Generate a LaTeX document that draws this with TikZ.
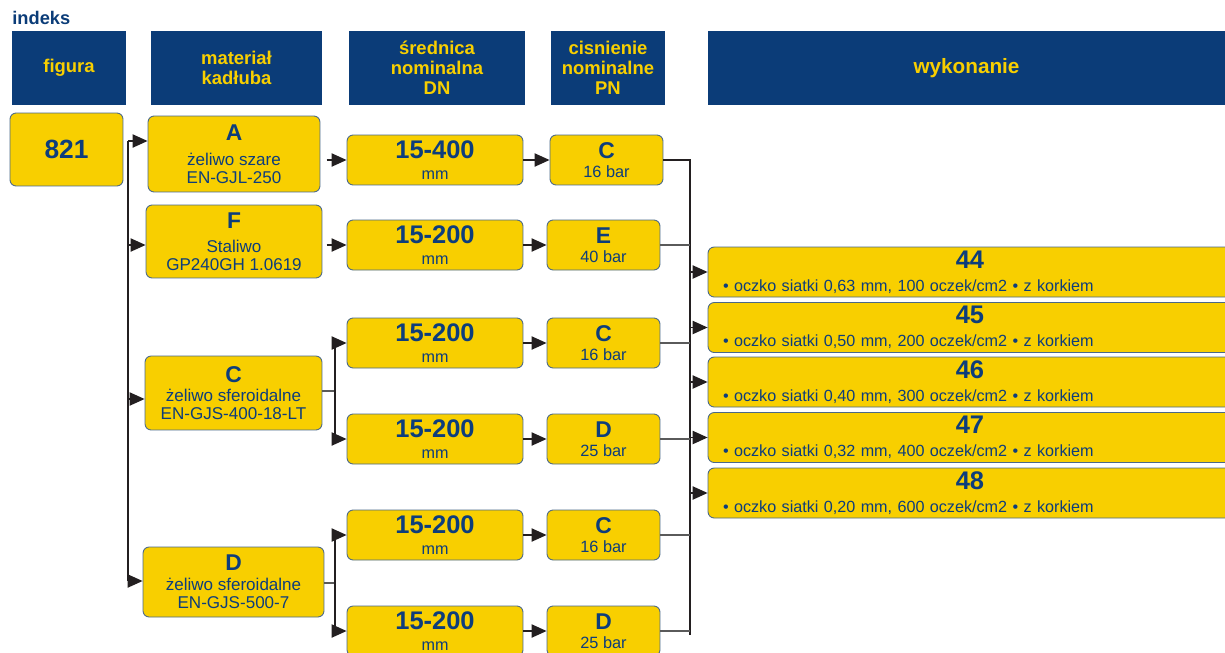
\documentclass[tikz,border=0pt]{standalone}
\usepackage{fontspec}
\setmainfont{Liberation Sans}
\usetikzlibrary{arrows.meta}

\definecolor{hdrblue}{HTML}{0B3C78}
\definecolor{boxyellow}{HTML}{F8CF00}
\definecolor{txtblue}{HTML}{0D3D7C}
\definecolor{edgeblue}{HTML}{4A6888}
\definecolor{linegrey}{HTML}{5A5A5A}
\definecolor{lineblack}{HTML}{231F20}

\newcommand{\numfont}{\bfseries\fontsize{14.5}{10}\selectfont}
\newcommand{\letfont}{\bfseries\fontsize{13}{10}\selectfont}

\tikzset{
  hdr/.style={fill=hdrblue, text=boxyellow, align=center, inner sep=0pt,
    minimum height=1.5cm, font=\bfseries\fontsize{10.5}{11.3}\selectfont},
  ybox/.style={fill=boxyellow, draw=edgeblue, line width=0.5pt, rounded corners=3.5pt,
    text=txtblue, align=center, inner sep=0pt},
  matbox/.style={ybox, font=\fontsize{9.7}{10.2}\selectfont},
  dnbox/.style={ybox, minimum width=3.52cm, minimum height=1cm, font=\fontsize{9.2}{10}\selectfont},
  pnbox/.style={ybox, minimum width=2.26cm, minimum height=1cm, font=\fontsize{9.3}{9.6}\selectfont},
  wykbox/.style={ybox, align=left, text width=9.88cm, inner xsep=0.3cm, minimum height=1cm,
    font=\fontsize{9.2}{10}\selectfont},
  arr/.style={draw=lineblack, line width=0.8pt, -{Triangle[length=8.5pt,width=7.5pt]}},
  trunk/.style={draw=lineblack, line width=0.8pt},
  stub/.style={draw=linegrey, line width=0.6pt},
}

\begin{document}
\begin{tikzpicture}[x=0.02cm, y=-0.02cm]
\useasboundingbox (0,0) rectangle (1225,653);

% naglowki
\node[anchor=base west, inner sep=0pt, text=hdrblue, font=\bfseries\fontsize{10.4}{12}\selectfont] (title) at (12,24) {indeks};
\node[hdr, minimum width=2.28cm] (hFig) at (69,68) {figura};
\node[hdr, minimum width=3.42cm] (hMat) at (236.5,68) {materiał\\kadłuba};
\node[hdr, minimum width=3.52cm] (hDN) at (437,68) {średnica\\nominalna\\DN};
\node[hdr, minimum width=2.28cm] (hPN) at (608,68) {cisnienie\\nominalne\\PN};
\node[hdr, minimum width=10.34cm, font=\bfseries\fontsize{11.8}{13}\selectfont] (hWyk) at (966.5,68) {wykonanie};

% figura
\node[ybox, minimum width=2.26cm, minimum height=1.46cm, font=\bfseries\fontsize{15}{16}\selectfont] (fig) at (66.5,149.5) {\raisebox{-2pt}{821}};

% material kadluba
\node[matbox, minimum width=3.44cm, minimum height=1.52cm] (mA) at (234,154) {{\letfont A}\\[3.8pt]żeliwo szare\\EN-GJL-250};
\node[matbox, minimum width=3.52cm, minimum height=1.46cm] (mF) at (234,241.5) {{\letfont F}\\[3.4pt]Staliwo\\GP240GH 1.0619};
\node[matbox, minimum width=3.54cm, minimum height=1.48cm] (mC) at (233.5,393) {{\letfont C}\\[1pt]żeliwo sferoidalne\\EN-GJS-400-18-LT};
\node[matbox, minimum width=3.62cm, minimum height=1.4cm] (mD) at (233.5,582) {{\letfont D}\\[1pt]żeliwo sferoidalne\\EN-GJS-500-7};

% srednica DN
\node[dnbox] (dA) at (435,160) {{\numfont 15-400}\\[2pt]mm};
\node[dnbox] (dF) at (435,245) {{\numfont 15-200}\\[2pt]mm};
\node[dnbox] (dC1) at (435,343) {{\numfont 15-200}\\[2pt]mm};
\node[dnbox] (dC2) at (435,439) {{\numfont 15-200}\\[2pt]mm};
\node[dnbox] (dD1) at (435,535) {{\numfont 15-200}\\[2pt]mm};
\node[dnbox] (dD2) at (435,631) {{\numfont 15-200}\\[2pt]mm};

% cisnienie PN
\node[pnbox] (pA) at (606.5,160) {{\letfont C}\\[1.5pt]16 bar};
\node[pnbox] (pF) at (603.5,245) {{\letfont E}\\[1.5pt]40 bar};
\node[pnbox] (pC1) at (603.5,343) {{\letfont C}\\[1.5pt]16 bar};
\node[pnbox] (pC2) at (603.5,439) {{\letfont D}\\[1.5pt]25 bar};
\node[pnbox] (pD1) at (603.5,535) {{\letfont C}\\[1.5pt]16 bar};
\node[pnbox] (pD2) at (603.5,631) {{\letfont D}\\[1.5pt]25 bar};

% wykonanie
\node[wykbox] (w44) at (970,272) {\makebox[9.88cm]{\numfont 44}\\[3pt]• oczko siatki 0,63 mm, 100 oczek/cm2 • z korkiem};
\node[wykbox] (w45) at (970,327.5) {\makebox[9.88cm]{\numfont 45}\\[3pt]• oczko siatki 0,50 mm, 200 oczek/cm2 • z korkiem};
\node[wykbox] (w46) at (970,382) {\makebox[9.88cm]{\numfont 46}\\[3pt]• oczko siatki 0,40 mm, 300 oczek/cm2 • z korkiem};
\node[wykbox] (w47) at (970,437.5) {\makebox[9.88cm]{\numfont 47}\\[3pt]• oczko siatki 0,32 mm, 400 oczek/cm2 • z korkiem};
\node[wykbox] (w48) at (970,493) {\makebox[9.88cm]{\numfont 48}\\[3pt]• oczko siatki 0,20 mm, 600 oczek/cm2 • z korkiem};

% od figury do materialu
\coordinate (tA) at (128,141);
\coordinate (tF) at (128,245);
\coordinate (tC) at (128,399);
\coordinate (tD) at (128,581);
\draw[trunk] (tA) -- (tD);
\draw[arr] (tA) -- (tA -| mA.west);
\draw[arr] (tF) -- (tF -| mF.west);
\draw[arr] (tC) -- (tC -| mC.west);
\draw[arr] (tD) -- (tD -| mD.west);

% od materialu do DN
\draw[arr] (dA.west) ++(-20,0) -- (dA.west);
\draw[arr] (dF.west) ++(-20,0) -- (dF.west);
\coordinate (bC) at (335,391);
\draw[stub] (mC.east |- bC) -- (bC);
\draw[trunk] (bC |- dC1.west) -- (bC |- dC2.west);
\draw[arr] (bC |- dC1.west) -- (dC1.west);
\draw[arr] (bC |- dC2.west) -- (dC2.west);
\coordinate (bD) at (335,583);
\draw[stub] (mD.east |- bD) -- (bD);
\draw[trunk] (bD |- dD1.west) -- (bD |- dD2.west);
\draw[arr] (bD |- dD1.west) -- (dD1.west);
\draw[arr] (bD |- dD2.west) -- (dD2.west);

% od DN do PN
\draw[arr] (dA) -- (pA);
\draw[arr] (dF) -- (pF);
\draw[arr] (dC1) -- (pC1);
\draw[arr] (dC2) -- (pC2);
\draw[arr] (dD1) -- (pD1);
\draw[arr] (dD2) -- (pD2);

% od PN do wykonania
\coordinate (rTop) at (690,160);
\coordinate (rBot) at (690,635);
\draw[trunk] (pA.east) -- (rTop) -- (rBot);
\draw[stub] (pF.east) -- (pF.east -| rTop);
\draw[stub] (pC1.east) -- (pC1.east -| rTop);
\draw[stub] (pC2.east) -- (pC2.east -| rTop);
\draw[stub] (pD1.east) -- (pD1.east -| rTop);
\draw[stub] (pD2.east) -- (pD2.east -| rTop);
\draw[arr] (w44.west -| rTop) -- (w44.west);
\draw[arr] (w45.west -| rTop) -- (w45.west);
\draw[arr] (w46.west -| rTop) -- (w46.west);
\draw[arr] (w47.west -| rTop) -- (w47.west);
\draw[arr] (w48.west -| rTop) -- (w48.west);
\end{tikzpicture}
\end{document}
